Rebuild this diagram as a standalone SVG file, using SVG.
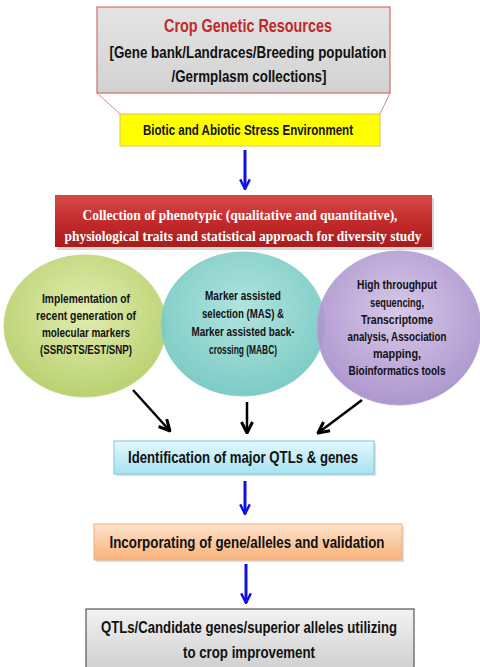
<svg xmlns="http://www.w3.org/2000/svg" width="480" height="667" viewBox="0 0 480 667">
<defs>
<linearGradient id="gGray" x1="0" y1="0" x2="0" y2="1"><stop offset="0" stop-color="#e4e4e4"/><stop offset="1" stop-color="#d2d2d2"/></linearGradient>
<linearGradient id="gRed" x1="0" y1="0" x2="0" y2="1"><stop offset="0" stop-color="#d64a4a"/><stop offset="0.5" stop-color="#c42b2b"/><stop offset="1" stop-color="#a81c1c"/></linearGradient>
<linearGradient id="gCyan" x1="0" y1="0" x2="0" y2="1"><stop offset="0" stop-color="#e4f7fc"/><stop offset="1" stop-color="#a6e3f2"/></linearGradient>
<linearGradient id="gOrange" x1="0" y1="0" x2="0" y2="1"><stop offset="0" stop-color="#fde3cc"/><stop offset="1" stop-color="#f8b27a"/></linearGradient>
<linearGradient id="gBottom" x1="0" y1="0" x2="0" y2="1"><stop offset="0" stop-color="#f2f2f2"/><stop offset="1" stop-color="#cfcfcf"/></linearGradient>
<radialGradient id="gGreen" cx="0.5" cy="0.4" r="0.6"><stop offset="0" stop-color="#e2edb0"/><stop offset="1" stop-color="#b9d170"/></radialGradient>
<radialGradient id="gTeal" cx="0.5" cy="0.4" r="0.6"><stop offset="0" stop-color="#a9e0db"/><stop offset="1" stop-color="#6ec6bf"/></radialGradient>
<radialGradient id="gPurple" cx="0.5" cy="0.4" r="0.6"><stop offset="0" stop-color="#d3c3e6"/><stop offset="1" stop-color="#a58bc9"/></radialGradient>
<marker id="blueHead" viewBox="0 0 10 10" refX="9" refY="5" markerWidth="4" markerHeight="4" orient="auto"><path d="M1,1 L9,5 L1,9" fill="none" stroke="#1010e0" stroke-width="2"/></marker>
<marker id="blackHead" viewBox="0 0 10 10" refX="9" refY="5" markerWidth="5.5" markerHeight="5.5" orient="auto"><path d="M1,1 L9,5 L1,9" fill="none" stroke="#000" stroke-width="2.2"/></marker>
</defs>
<style>
.t{font-family:"Liberation Sans",Arial,sans-serif;font-weight:bold;text-anchor:middle;fill:#111}
.e{font-size:13px}
.s{font-family:"Liberation Serif","Times New Roman",serif;font-weight:bold;text-anchor:middle;fill:#fff}
.blue{stroke:#1010e0;stroke-width:3;fill:none;marker-end:url(#blueHead)}
.black{stroke:#000;stroke-width:2.5;fill:none;marker-end:url(#blackHead)}
</style>
<rect width="480" height="667" fill="#fff"/>
<g id="crop-genetic-resources">
<line x1="97" y1="93" x2="120" y2="114" stroke="#d98a8a" stroke-width="1"/>
<line x1="390" y1="93" x2="380" y2="114" stroke="#d98a8a" stroke-width="1"/>
<rect x="97" y="7" width="293" height="86" fill="url(#gGray)" stroke="#d07070" stroke-width="1.2"/>
<text class="t" x="248" y="32" font-size="19" style="fill:#c0282d" textLength="168" lengthAdjust="spacingAndGlyphs">Crop Genetic Resources</text>
<text class="t" x="248" y="58" font-size="16.5" textLength="277" lengthAdjust="spacingAndGlyphs">[Gene bank/Landraces/Breeding  population</text>
<text class="t" x="249" y="82" font-size="16.5" textLength="155" lengthAdjust="spacingAndGlyphs">/Germplasm  collections]</text>
</g>
<g id="stress-environment">
<rect x="120" y="114" width="260" height="32" fill="#ffff00" stroke="#e0c060" stroke-width="1"/>
<text class="t" x="248" y="135" font-size="14" textLength="210" lengthAdjust="spacingAndGlyphs">Biotic and Abiotic Stress Environment</text>
</g>
<g id="phenotypic-collection">
<rect x="57" y="198" width="377" height="52" fill="#888" opacity="0.35"/>
<rect x="55" y="195" width="377" height="52" fill="url(#gRed)"/>
<text class="s" x="240" y="220" font-size="15" textLength="315" lengthAdjust="spacingAndGlyphs">Collection of  phenotypic (qualitative and quantitative),</text>
<text class="s" x="243" y="241" font-size="15" textLength="357" lengthAdjust="spacingAndGlyphs">physiological traits and statistical approach for diversity study</text>
</g>
<g id="molecular-markers">
<ellipse cx="85" cy="326" rx="81" ry="71" fill="url(#gGreen)" stroke="#c8d890" stroke-width="1"/>
<text class="t e" x="86" y="303" textLength="88" lengthAdjust="spacingAndGlyphs">Implementation of</text>
<text class="t e" x="86" y="320" textLength="100" lengthAdjust="spacingAndGlyphs">recent generation of</text>
<text class="t e" x="86" y="337" textLength="88" lengthAdjust="spacingAndGlyphs">molecular markers</text>
<text class="t e" x="86" y="354" textLength="92" lengthAdjust="spacingAndGlyphs">(SSR/STS/EST/SNP)</text>
</g>
<g id="mas-mabc">
<ellipse cx="243" cy="324" rx="82" ry="72" fill="url(#gTeal)" fill-opacity="0.9" stroke="#90d0c8" stroke-width="1"/>
<text class="t e" x="243" y="300" textLength="76" lengthAdjust="spacingAndGlyphs">Marker assisted</text>
<text class="t e" x="243" y="318" textLength="82" lengthAdjust="spacingAndGlyphs">selection (MAS) &amp;</text>
<text class="t e" x="243" y="336" textLength="103" lengthAdjust="spacingAndGlyphs">Marker assisted back-</text>
<text class="t e" x="243" y="354" textLength="68" lengthAdjust="spacingAndGlyphs">crossing (MABC)</text>
</g>
<g id="high-throughput">
<ellipse cx="399" cy="328" rx="82" ry="77" fill="url(#gPurple)" fill-opacity="0.9" stroke="#b8a8d8" stroke-width="1"/>
<text class="t e" x="397" y="289" textLength="80" lengthAdjust="spacingAndGlyphs">High throughput</text>
<text class="t e" x="397" y="307" textLength="54" lengthAdjust="spacingAndGlyphs">sequencing,</text>
<text class="t e" x="397" y="324" textLength="72" lengthAdjust="spacingAndGlyphs">Transcriptome</text>
<text class="t e" x="397" y="341" textLength="99" lengthAdjust="spacingAndGlyphs">analysis, Association</text>
<text class="t e" x="397" y="358" textLength="48" lengthAdjust="spacingAndGlyphs">mapping,</text>
<text class="t e" x="397" y="375" textLength="97" lengthAdjust="spacingAndGlyphs">Bioinformatics tools</text>
</g>
<g id="identification">
<rect x="116" y="443" width="260" height="33" fill="#999" opacity="0.3"/>
<rect x="114" y="441" width="260" height="33" fill="url(#gCyan)" stroke="#7cc8dc" stroke-width="1"/>
<text class="t" x="243" y="463" font-size="16.5" textLength="230" lengthAdjust="spacingAndGlyphs">Identification of major QTLs &amp; genes</text>
</g>
<g id="incorporating">
<rect x="96" y="526" width="308" height="36" fill="#999" opacity="0.3"/>
<rect x="94" y="524" width="308" height="36" fill="url(#gOrange)" stroke="#f0b080" stroke-width="1"/>
<text class="t" x="247" y="548" font-size="16.5" textLength="275" lengthAdjust="spacingAndGlyphs">Incorporating  of gene/alleles and validation</text>
</g>
<g id="crop-improvement">
<rect x="86" y="609" width="328" height="62" fill="url(#gBottom)" stroke="#555" stroke-width="1.2"/>
<text class="t" x="249" y="633" font-size="16.5" textLength="296" lengthAdjust="spacingAndGlyphs">QTLs/Candidate  genes/superior  alleles utilizing</text>
<text class="t" x="249" y="658" font-size="16.5" textLength="132" lengthAdjust="spacingAndGlyphs">to crop  improvement</text>
</g>
<g id="connectors">
<line class="blue" x1="245" y1="150" x2="245" y2="189"/>
<line class="black" x1="133" y1="390" x2="170" y2="431"/>
<line class="black" x1="247" y1="402" x2="247" y2="433"/>
<line class="black" x1="362" y1="400" x2="318" y2="433"/>
<line class="blue" x1="245" y1="481" x2="245" y2="514"/>
<line class="blue" x1="246" y1="564" x2="246" y2="603"/>
</g>
</svg>
